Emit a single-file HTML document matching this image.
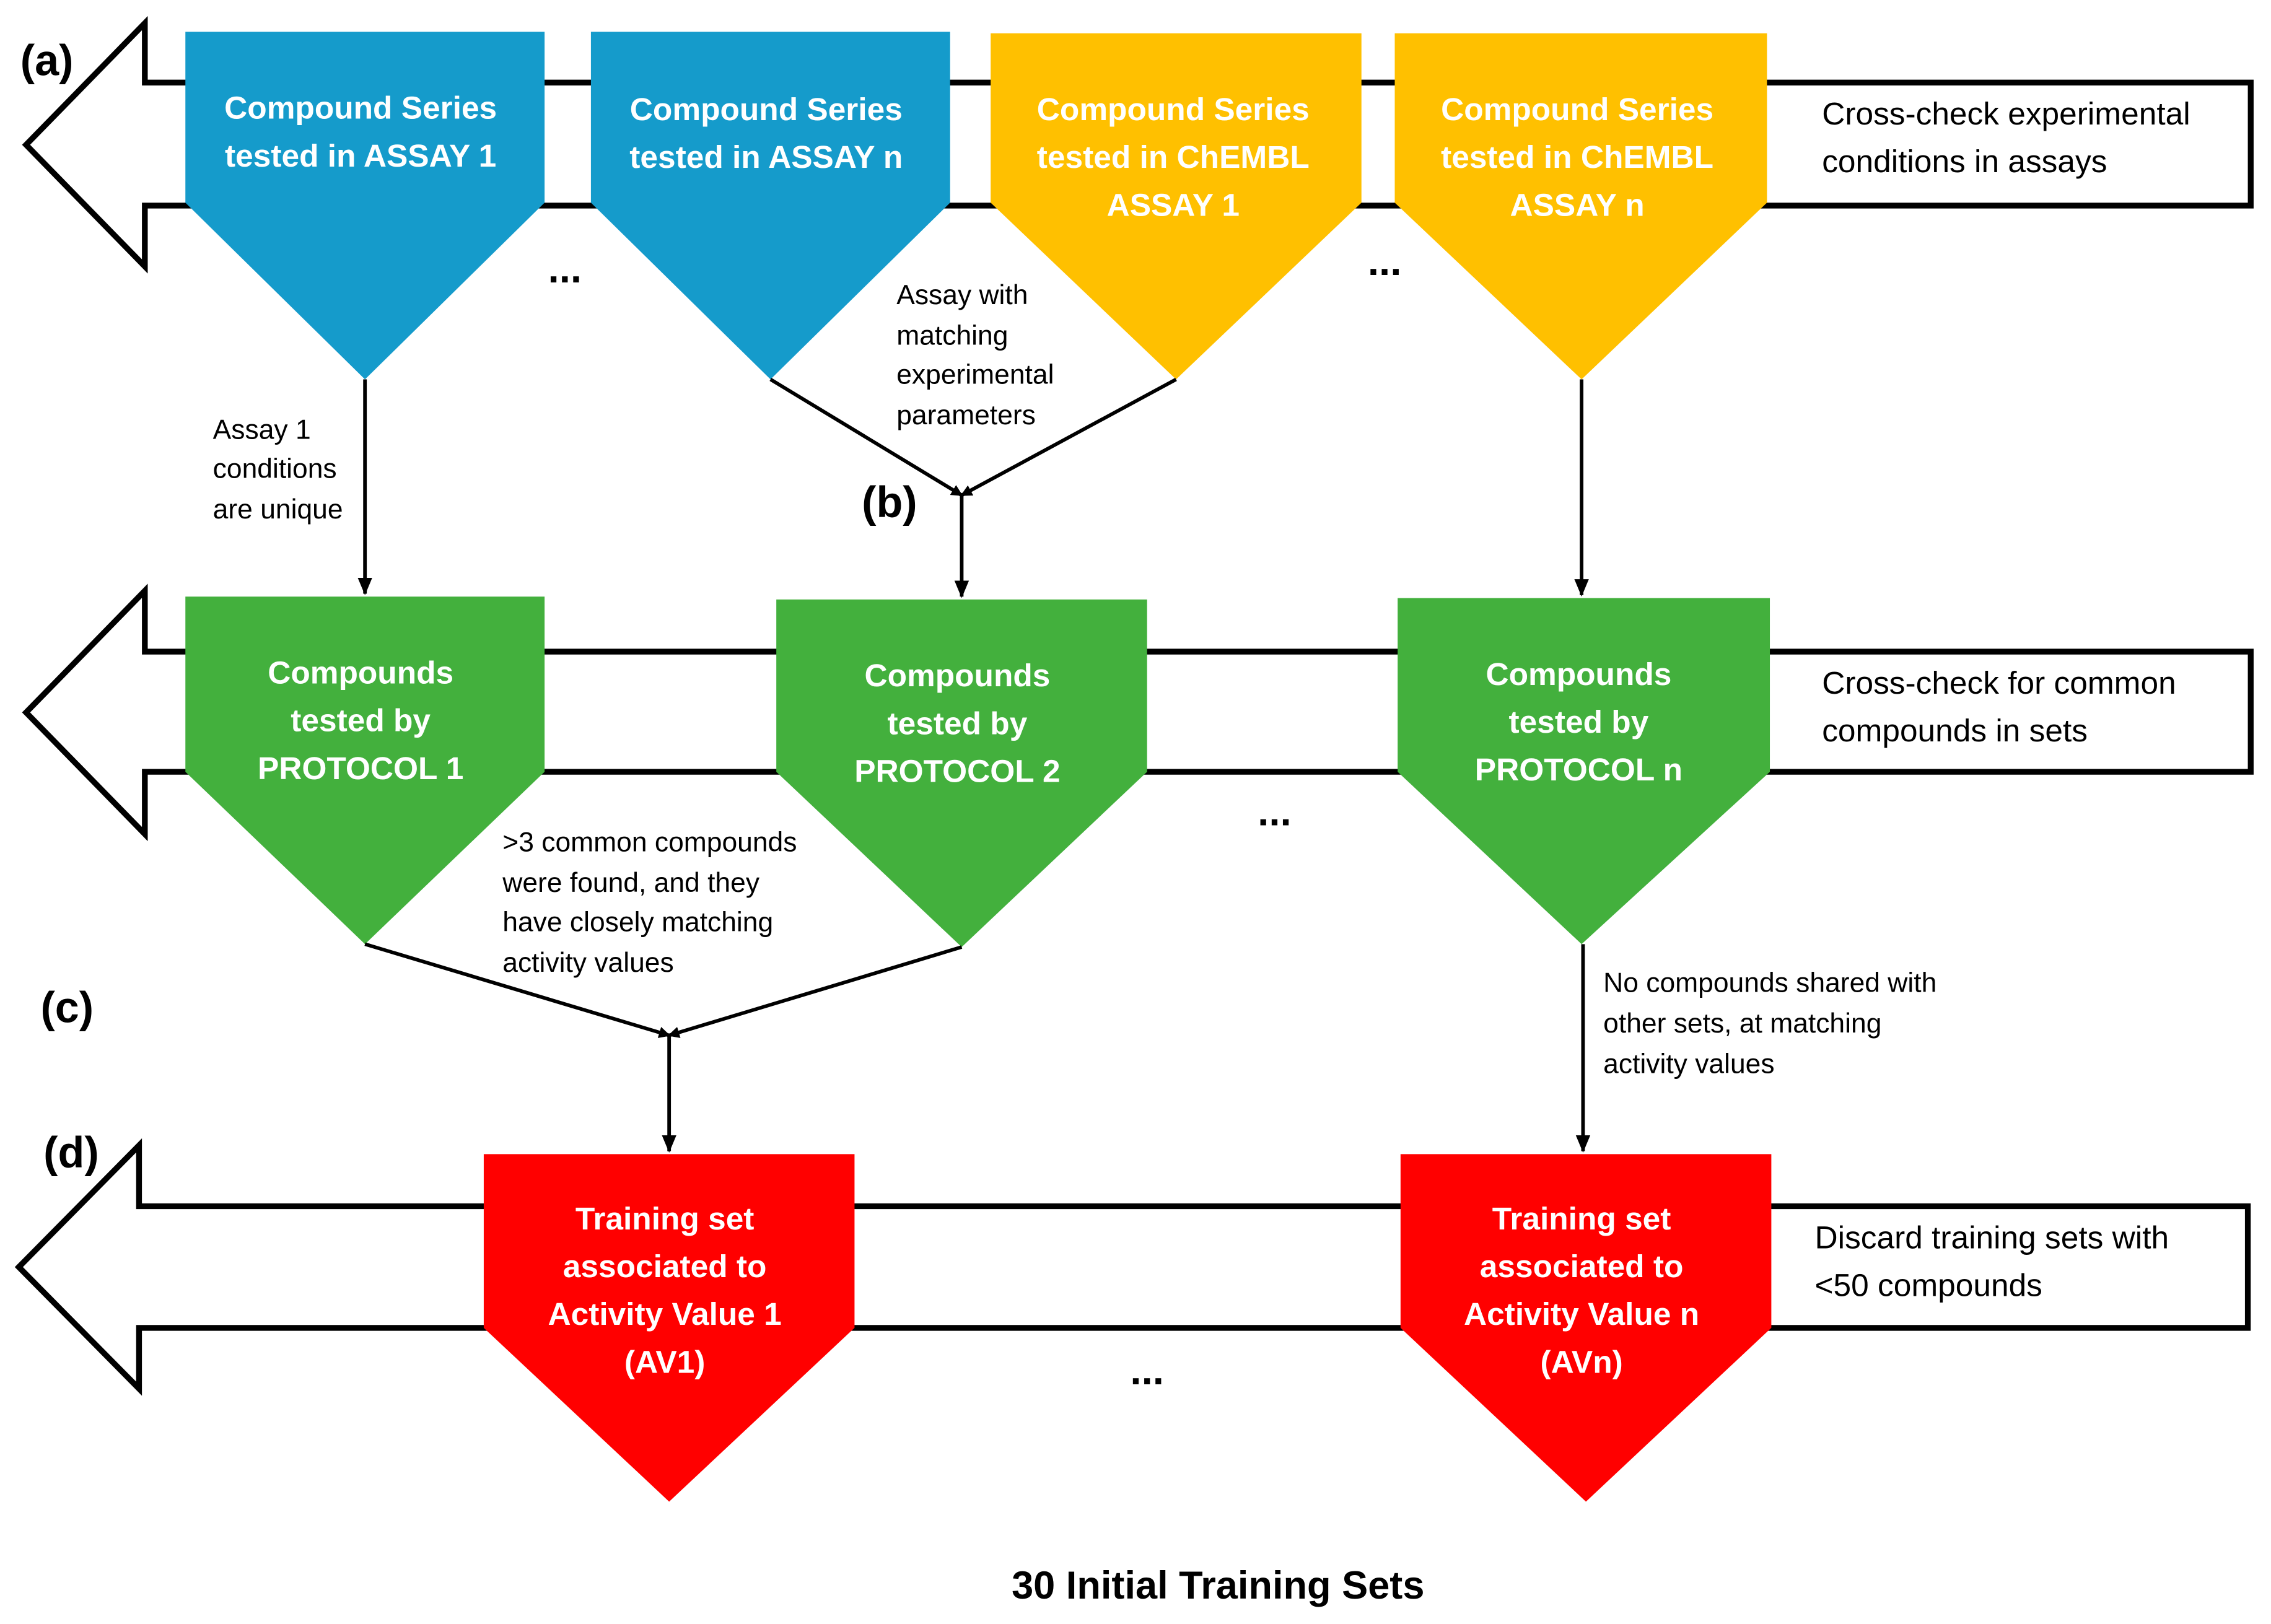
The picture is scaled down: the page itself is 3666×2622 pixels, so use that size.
<!DOCTYPE html>
<html><head><style>html,body{margin:0;padding:0;background:#fff}svg{display:block}</style></head>
<body>
<svg width="3666" height="2622" viewBox="0 0 1568 1121.5" preserveAspectRatio="none" xmlns="http://www.w3.org/2000/svg" font-family="'Liberation Sans', sans-serif">
<defs><marker id="ah" markerWidth="8" markerHeight="8" refX="7" refY="4" orient="auto" markerUnits="userSpaceOnUse"><path d="M0,0 L8,4 L0,8 z" fill="#000"/></marker>
<marker id="ah2" markerWidth="12" markerHeight="12" refX="11" refY="6" orient="auto" markerUnits="userSpaceOnUse"><path d="M0,1 L12,6 L0,11 z" fill="#000"/></marker></defs>
<g fill="#fff" stroke="#000" stroke-width="4">
<path d="M18,100 L100,16 L100,57 L1554,57 L1554,142 L100,142 L100,184 Z"/>
<path d="M18,492 L100,408 L100,450 L1554,450 L1554,533 L100,533 L100,576 Z"/>
<path d="M13,875 L96,791 L96,833 L1552,833 L1552,917 L96,917 L96,959 Z"/>
</g>
<polygon fill="#159BCB" points="128,22 376,22 376,140 252,262 128,140"/>
<polygon fill="#159BCB" points="408,22 656,22 656,140 532,262 408,140"/>
<polygon fill="#FFC000" points="684,23 940,23 940,140 812,262 684,140"/>
<polygon fill="#FFC000" points="963,23 1220,23 1220,140 1092,262 963,140"/>
<polygon fill="#43B03D" points="128,412 376,412 376,533 252,652 128,533"/>
<polygon fill="#43B03D" points="536,414 792,414 792,533 664,654 536,533"/>
<polygon fill="#43B03D" points="965,413 1222,413 1222,533 1092,652 965,533"/>
<polygon fill="#FF0000" points="334,797 590,797 590,917 462,1037 334,917"/>
<polygon fill="#FF0000" points="967,797 1223,797 1223,917 1095,1037 967,917"/>
<g stroke="#000" stroke-width="2.5" fill="none">
<line x1="252" y1="262" x2="252" y2="410" marker-end="url(#ah2)"/>
<line x1="532" y1="262" x2="664" y2="342" marker-end="url(#ah)"/>
<line x1="812" y1="262" x2="664" y2="342" marker-end="url(#ah)"/>
<line x1="664" y1="342" x2="664" y2="412" marker-end="url(#ah2)"/>
<line x1="1092" y1="262" x2="1092" y2="411" marker-end="url(#ah2)"/>
<line x1="252" y1="652" x2="462" y2="715" marker-end="url(#ah)"/>
<line x1="664" y1="654" x2="462" y2="715" marker-end="url(#ah)"/>
<line x1="462" y1="715" x2="462" y2="795" marker-end="url(#ah2)"/>
<line x1="1093" y1="652" x2="1093" y2="795" marker-end="url(#ah2)"/>
</g>
<g fill="#fff" font-weight="bold" font-size="22" text-anchor="middle">
<text x="249" y="82">Compound Series</text><text x="249" y="115">tested in ASSAY 1</text>
<text x="529" y="83">Compound Series</text><text x="529" y="116">tested in ASSAY n</text>
<text x="810" y="83">Compound Series</text><text x="810" y="116">tested in ChEMBL</text><text x="810" y="149">ASSAY 1</text>
<text x="1089" y="83">Compound Series</text><text x="1089" y="116">tested in ChEMBL</text><text x="1089" y="149">ASSAY n</text>
<text x="249" y="472">Compounds</text><text x="249" y="505">tested by</text><text x="249" y="538">PROTOCOL 1</text>
<text x="661" y="474">Compounds</text><text x="661" y="507">tested by</text><text x="661" y="540">PROTOCOL 2</text>
<text x="1090" y="473">Compounds</text><text x="1090" y="506">tested by</text><text x="1090" y="539">PROTOCOL n</text>
<text x="459" y="849">Training set</text><text x="459" y="882">associated to</text><text x="459" y="915">Activity Value 1</text><text x="459" y="948">(AV1)</text>
<text x="1092" y="849">Training set</text><text x="1092" y="882">associated to</text><text x="1092" y="915">Activity Value n</text><text x="1092" y="948">(AVn)</text>
</g>
<g fill="#000" font-size="22">
<text x="1258" y="86">Cross-check experimental</text><text x="1258" y="119">conditions in assays</text>
<text x="1258" y="479">Cross-check for common</text><text x="1258" y="512">compounds in sets</text>
<text x="1253" y="862">Discard training sets with</text><text x="1253" y="895">&lt;50 compounds</text>
</g>
<g fill="#000" font-size="19">
<text x="147" y="303">Assay 1</text><text x="147" y="330">conditions</text><text x="147" y="358">are unique</text>
<text x="619" y="210">Assay with</text><text x="619" y="238">matching</text><text x="619" y="265">experimental</text><text x="619" y="293">parameters</text>
<text x="347" y="588">&gt;3 common compounds</text><text x="347" y="616">were found, and they</text><text x="347" y="643">have closely matching</text><text x="347" y="671">activity values</text>
<text x="1107" y="685">No compounds shared with</text><text x="1107" y="713">other sets, at matching</text><text x="1107" y="741">activity values</text>
</g>
<g fill="#000" font-weight="bold" font-size="30">
<text x="14" y="52">(a)</text>
<text x="595" y="357">(b)</text>
<text x="28" y="706">(c)</text>
<text x="30" y="806">(d)</text>
</g>
<g fill="#000" font-weight="bold" font-size="28" text-anchor="middle">
<text x="390" y="195">...</text><text x="956" y="190">...</text>
<text x="880" y="570">...</text><text x="792" y="956">...</text>
</g>
<text x="841" y="1104" fill="#000" font-weight="bold" font-size="27" text-anchor="middle">30 Initial Training Sets</text>
</svg>
</body></html>
